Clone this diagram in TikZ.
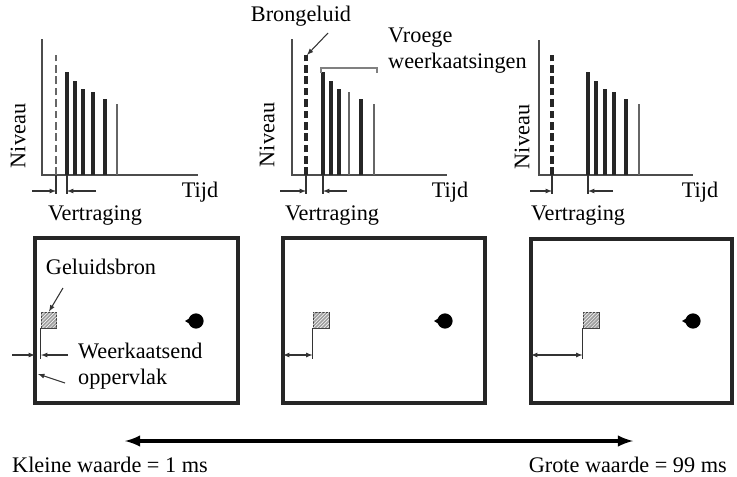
\documentclass[tikz,border=0pt]{standalone}
\usepackage{fontspec}
\setmainfont{Liberation Serif}
\usetikzlibrary{patterns}

\begin{document}
\begin{tikzpicture}[x=0.03cm, y=-0.03cm, auto,
        every node/.style={font=\fontsize{19}{22}\selectfont, inner sep=0pt},
        axis/.style={draw=black!70, line width=1.1pt},
        bar/.style={draw=black!85, line width=2.7pt},
        thinbar/.style={draw=black!60, line width=1.4pt},
        puls/.style={dash pattern=on 6.5pt off 3.2pt},
        dim/.style={draw=black!80, line width=0.9pt},
        room/.style={draw=black!85, line width=2.6pt},
        source/.style={draw=black!75, line width=0.8pt, fill=gray!75, minimum size=13.6pt,
            postaction={pattern=north east lines, pattern color=white}},
        listener/.style={circle, fill=black, minimum size=13pt}]

        \useasboundingbox (0,0) rectangle (737,476);

        % diagram 1
        \draw[axis] (42,39) -- (42,175) -- (198,175);
        \draw[thinbar, puls] (56,175) -- (56,55);
        \draw[bar] (67,175) -- (67,72);
        \draw[bar] (75,175) -- (75,81);
        \draw[bar] (83,175) -- (83,89);
        \draw[bar] (93,175) -- (93,92);
        \draw[bar] (105,175) -- (105,99);
        \draw[thinbar] (117,175) -- (117,104);
        \node[rotate=90] (niveau1) at (18,136) {Niveau};
        \node (tijd1) at (200,192) {Tijd};
        \node (vertr1) at (95,216) {Vertraging};

        % diagram 2
        \draw[axis] (292,39) -- (292,175) -- (447,175);
        \draw[bar, puls] (306,175) -- (306,55);
        \draw[bar] (323,175) -- (323,72);
        \draw[bar] (331,175) -- (331,81);
        \draw[bar] (339,175) -- (339,89);
        \draw[thinbar] (349,175) -- (349,92);
        \draw[bar] (361,175) -- (361,99);
        \draw[thinbar] (374,175) -- (374,104);
        \node[rotate=90] (niveau2) at (267,135) {Niveau};
        \node (tijd2) at (450,192) {Tijd};
        \node (vertr2) at (332,216) {Vertraging};

        % diagram 3
        \draw[axis] (539,40) -- (539,175) -- (693,175);
        \draw[bar, puls] (552,175) -- (552,55);
        \draw[bar] (588,175) -- (588,72);
        \draw[bar] (596,175) -- (596,81);
        \draw[bar] (605,175) -- (605,89);
        \draw[bar] (614,175) -- (614,92);
        \draw[bar] (626,175) -- (626,99);
        \draw[thinbar] (639,175) -- (639,104);
        \node[rotate=90] (niveau3) at (522,137) {Niveau};
        \node (tijd3) at (700,192) {Tijd};
        \node (vertr3) at (578,216) {Vertraging};

        % vertraging
        \draw[dim] (56,175) -- (56,194);
        \draw[dim] (67,175) -- (67,194);
        \draw[dim, -latex] (32,191) -- (56,191);
        \draw[dim, -latex] (96,191) -- (67,191);

        \draw[dim] (306,175) -- (306,194);
        \draw[dim] (323,175) -- (323,194);
        \draw[dim, -latex] (280,191) -- (306,191);
        \draw[dim, -latex] (347,191) -- (323,191);

        \draw[dim] (552,175) -- (552,194);
        \draw[dim] (588,175) -- (588,194);
        \draw[dim, -latex] (530,191) -- (552,191);
        \draw[dim, -latex] (613,191) -- (588,191);

        % labels diagram 2
        \node (brongeluid) at (301,16) {Brongeluid};
        \coordinate (brontop) at (307,55);
        \draw[dim, -latex] (328,33) -- (brontop);
        \node[anchor=west, align=left] (vroege) at (388,51) {Vroege\\weerkaatsingen};
        \draw[draw=black!50, line width=1pt] (321,73) -- (321,68) -- (377,68) -- (377,73);

        % rooms
        \draw[room] (35,238) rectangle (238,403);
        \draw[room] (283,238) rectangle (485,403);
        \draw[room] (531,239) rectangle (732,403);

        % sources
        \node[source] (bron1) at (49,320) {};
        \node[source] (bron2) at (321,320) {};
        \node[source] (bron3) at (591,320) {};
        \draw[dim] (bron1.south west) -- ++(0,31) coordinate (voet1);
        \draw[dim] (bron2.south west) -- ++(0,31) coordinate (voet2);
        \draw[dim] (bron3.south west) -- ++(0,31) coordinate (voet3);

        % listeners
        \node[listener] (luister1) at (196,321) {};
        \node[listener] (luister2) at (445,321) {};
        \node[listener] (luister3) at (693,321) {};
        \fill (185,321) -- (190,318) -- (190,324) -- cycle;
        \fill (434,321) -- (439,318) -- (439,324) -- cycle;
        \fill (682,321) -- (687,318) -- (687,324) -- cycle;

        % distance to wall
        \coordinate (muur1) at (35,355);
        \coordinate (muur2) at (283,355);
        \coordinate (muur3) at (531,355);
        \draw[dim, -latex] (12,355) -- (muur1);
        \draw[dim, -latex] (68,355) -- (41,355);
        \draw[dim, latex-latex] (muur2) -- (bron2.south west |- muur2);
        \draw[dim, latex-latex] (muur3) -- (bron3.south west |- muur3);

        % labels room 1
        \node (geluidsbron) at (101,267) {Geluidsbron};
        \draw[dim, -latex] (63,288) -- (bron1.north);
        \node[anchor=west, align=left] (weerk) at (78,366) {Weerkaatsend\\oppervlak};
        \draw[dim, -latex] (65,383) -- (38,374);

        % range
        \coordinate (klein) at (125,441);
        \coordinate (groot) at (633,441);
        \draw[line width=3.4pt, latex-latex] (klein) -- (groot);
        \node[anchor=west] (kleinw) at (12,465) {Kleine waarde = 1 ms};
        \node[anchor=east] (grootw) at (727,465) {Grote waarde = 99 ms};
    \end{tikzpicture}
\end{document}
